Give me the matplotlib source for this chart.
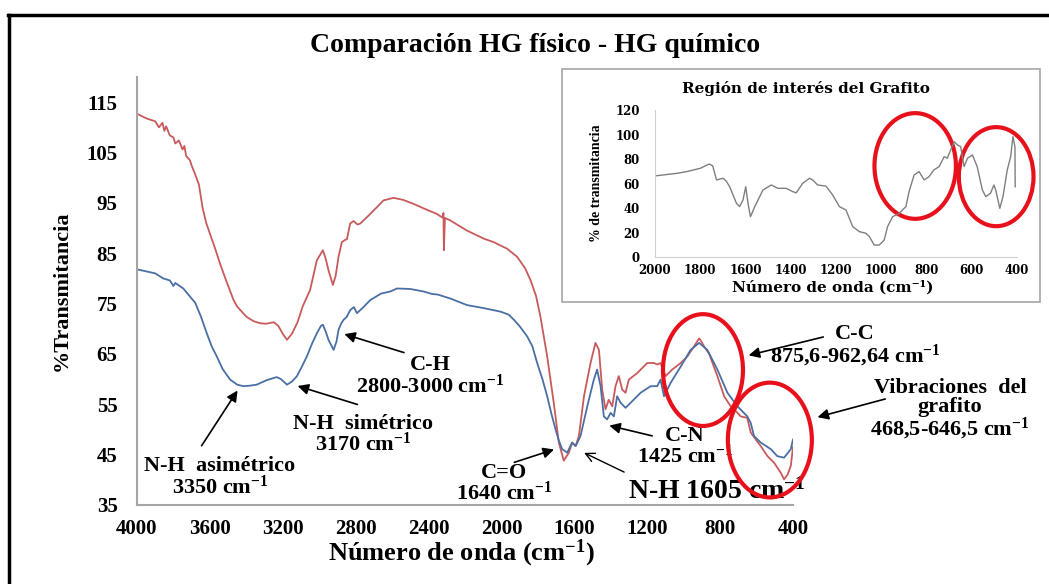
import matplotlib
matplotlib.use('Agg')
import matplotlib.pyplot as plt
from matplotlib.patches import Ellipse, Rectangle
from matplotlib.lines import Line2D

# HG químico (red) - wavenumber / %T
red_x = [4000, 3950, 3900, 3880, 3860, 3850, 3840, 3820, 3800, 3790, 3770, 3750, 3740,
         3730, 3710, 3700, 3680, 3660, 3640, 3620, 3600, 3570, 3545, 3510, 3470, 3450,
         3400, 3360, 3325, 3290, 3250, 3225, 3200, 3177, 3150, 3120, 3090, 3050, 3013,
         2980, 2965, 2949, 2925, 2910, 2894, 2876, 2860, 2848, 2830, 2812, 2790, 2775,
         2720, 2647, 2592, 2540, 2482, 2420, 2354, 2325, 2318, 2316, 2310, 2280, 2226,
         2189, 2097, 2042, 1969, 1914, 1870, 1841, 1810, 1786, 1749, 1713, 1685, 1658,
         1630, 1612, 1593, 1575, 1547, 1511, 1484, 1465, 1447, 1429, 1411, 1392, 1374,
         1356, 1337, 1319, 1301, 1255, 1200, 1163, 1145, 1127, 1099, 1063, 1016, 980,
         943, 915, 900, 888, 860, 815, 778, 742, 705, 687, 651, 632, 600, 577, 540, 504,
         467, 449, 430, 412, 400]
red_y = [112.7, 111.8, 111.2, 110.0, 110.9, 109.3, 110.2, 108.4, 108.0, 106.8, 107.4, 105.6,
         106.3, 104.3, 103.5, 102.4, 100.6, 98.6, 94.0, 91.0, 88.9, 85.8, 83.0, 79.5, 75.7,
         74.4, 72.4, 71.5, 71.1, 71.0, 71.3, 70.6, 69.0, 67.8, 69.0, 71.2, 74.5, 77.7, 83.6,
         85.6, 84.0, 81.6, 78.7, 80.5, 84.3, 87.2, 87.6, 87.8, 90.9, 91.4, 90.7, 90.9,
         92.8, 95.5, 96.0, 95.6, 94.8, 93.8, 92.8, 92.1, 93.0, 85.6, 92.0, 91.5, 90.3,
         89.5, 87.9, 87.2, 85.9, 84.3, 82.0, 79.7, 76.5, 72.4, 64.5, 55.3, 47.4, 43.8,
         45.4, 47.4, 46.7, 48.7, 56.6, 63.2, 67.2, 65.8, 57.9, 54.0, 55.9, 54.6, 58.6,
         60.6, 57.9, 57.3, 59.9, 61.2, 63.2, 63.2, 62.9, 63.2, 60.6, 61.9, 63.2, 64.5,
         66.5, 68.1, 67.3, 66.5, 65.0, 60.6, 56.6, 54.6, 53.3, 52.6, 52.3, 49.4, 47.8,
         46.7, 44.7, 43.4, 41.4, 40.1, 41.0, 42.8, 46.5]

# HG físico (blue)
blue_x = [4000, 3900, 3856, 3820, 3800, 3790, 3746, 3700, 3681, 3650, 3617, 3590, 3562,
          3530, 3489, 3450, 3416, 3380, 3343, 3288, 3233, 3210, 3177, 3150, 3122, 3095,
          3068, 3040, 3013, 2990, 2980, 2965, 2949, 2921, 2905, 2894, 2880, 2866, 2850,
          2830, 2810, 2793, 2760, 2720, 2660, 2610, 2573, 2500, 2427, 2380, 2350, 2280,
          2189, 2097, 2005, 1960, 1932, 1900, 1859, 1830, 1804, 1775, 1749, 1725, 1703,
          1685, 1667, 1639, 1612, 1593, 1566, 1529, 1493, 1475, 1456, 1438, 1420, 1401,
          1383, 1365, 1346, 1319, 1291, 1236, 1181, 1145, 1127, 1108, 1071, 1016, 962,
          915, 870, 815, 760, 705, 651, 632, 614, 577, 522, 486, 449, 412, 400]
blue_y = [81.8, 81.0, 80.0, 79.6, 78.5, 79.1, 78.0, 76.0, 75.2, 72.5, 69.1, 66.5, 64.5,
          62.0, 59.9, 58.9, 58.6, 58.7, 58.9, 59.8, 60.4, 60.0, 58.9, 59.5, 60.6, 62.5,
          64.5, 67.0, 69.1, 70.6, 70.8, 69.5, 67.8, 65.8, 67.5, 69.8, 71.0, 71.8, 72.3,
          73.7, 74.3, 73.1, 74.2, 75.7, 77.0, 77.4, 78.0, 77.9, 77.4, 76.9, 76.8, 76.0,
          74.7, 74.1, 73.4, 72.8, 71.8, 70.5, 68.5, 66.5, 63.2, 60.0, 56.6, 53.0, 50.0,
          47.8, 46.1, 45.4, 47.4, 46.7, 48.7, 54.6, 59.9, 61.9, 58.6, 52.6, 52.0, 53.3,
          52.6, 56.6, 55.3, 54.3, 55.3, 57.3, 58.6, 58.6, 59.9, 56.6, 59.3, 62.5, 65.8,
          67.2, 65.8, 61.9, 57.3, 54.6, 52.6, 51.3, 48.7, 47.4, 46.1, 44.7, 44.4, 46.1, 48.0]

# inset: grafito 2000-400
ins_x = [2000, 1900, 1860, 1800, 1772, 1760, 1745, 1728, 1699, 1685, 1670, 1640, 1626,
         1611, 1599, 1589, 1578, 1559, 1523, 1486, 1457, 1420, 1391, 1376, 1347, 1317,
         1303, 1281, 1244, 1215, 1185, 1156, 1126, 1097, 1068, 1053, 1031, 1009, 987, 972,
         950, 921, 891, 877, 855, 833, 810, 789, 767, 744, 722, 708, 693, 678, 663, 649,
         634, 619, 597, 576, 553, 538, 517, 502, 494, 476, 462, 443, 428, 418, 409, 408]
ins_y = [66.3, 68.5, 69.8, 72.5, 75.0, 76.0, 74.5, 63.0, 64.4, 62.0, 57.5, 44.0, 41.3,
         46.7, 57.5, 44.0, 33.0, 41.3, 54.8, 58.9, 56.2, 56.2, 53.5, 52.5, 60.3, 64.4,
         63.0, 58.9, 58.0, 50.8, 41.3, 38.5, 25.0, 20.9, 19.6, 17.0, 10.0, 10.0, 14.0, 25.0,
         33.0, 35.8, 41.3, 53.5, 67.0, 69.8, 63.0, 65.7, 71.2, 73.9, 82.0, 80.7, 87.5, 94.2,
         91.5, 90.2, 73.9, 80.7, 83.4, 73.9, 54.8, 49.4, 52.2, 58.9, 54.8, 39.9, 49.4,
         71.2, 82.0, 98.3, 90.0, 57.5]

x_ticks = [4000, 3600, 3200, 2800, 2400, 2000, 1600, 1200, 800, 400]
y_ticks = [35, 45, 55, 65, 75, 85, 95, 105, 115]
ins_xticks = [2000, 1800, 1600, 1400, 1200, 1000, 800, 600, 400]
ins_yticks = [0, 20, 40, 60, 80, 100, 120]

plt.rcParams['font.family'] = 'Liberation Serif'
plt.rcParams['font.weight'] = 'bold'
plt.rcParams['axes.labelweight'] = 'bold'
plt.rcParams['mathtext.fontset'] = 'custom'
plt.rcParams['mathtext.rm'] = 'Liberation Serif:bold'
plt.rcParams['mathtext.it'] = 'Liberation Serif:bold'
plt.rcParams['mathtext.bf'] = 'Liberation Serif:bold'

W, H = 1049, 584
fig = plt.figure(figsize=(W / 100, H / 100), dpi=100)

# outer frame lines
fig.add_artist(Line2D([8 / W, 1], [1 - 15 / H] * 2, color='black', lw=2.5))
fig.add_artist(Line2D([9 / W] * 2, [0, 1 - 15 / H], color='black', lw=2.5))

fig.text(535 / W, 1 - 45 / H, 'Comparación HG físico - HG químico', fontsize=20,
         ha='center', va='center')

# main chart
ax = fig.add_axes([137 / W, 1 - 505 / H, 656 / W, 428 / H])
ax.plot(red_x, red_y, color='#C95A5C', lw=1.3)
ax.plot(blue_x, blue_y, color='#4A6FA5', lw=1.3)
ax.set_xlim(4000, 400)
ax.set_ylim(35, 120)
ax.set_xticks(x_ticks)
ax.set_yticks(y_ticks)
ax.tick_params(length=0, labelsize=15)
ax.tick_params(axis='y', pad=14)
ax.tick_params(axis='x', pad=10)
for s in ['top', 'right']:
    ax.spines[s].set_visible(False)
for s in ['left', 'bottom']:
    ax.spines[s].set_color('#A6A6A6')
    ax.spines[s].set_linewidth(1.5)
ax.set_xlabel('Número de onda (cm$^{-1}$)', fontsize=19)
ax.xaxis.set_label_coords(0.495, -0.112)
ax.xaxis.label.set_va('center')
ax.set_ylabel('%Transmitancia', fontsize=16)
ax.yaxis.set_label_coords(-0.114, 0.5)
ax.yaxis.label.set_va('center')

# annotations
fill_arrow = dict(arrowstyle='-|>', color='black', lw=1.2, mutation_scale=16)
open_arrow = dict(arrowstyle='->', color='black', lw=1.0, mutation_scale=16)
ann_fs = 16
ax.text(3545, 40.5, 'N-H  asimétrico\n3350 cm$^{-1}$', fontsize=ann_fs, ha='center',
        va='center', linespacing=0.95)
ax.annotate('', xy=(3440, 58.2), xytext=(3654, 46.3), arrowprops=fill_arrow)
ax.text(2758, 48.9, 'N-H  simétrico\n3170 cm$^{-1}$', fontsize=ann_fs, ha='center',
        va='center', linespacing=0.95)
ax.annotate('', xy=(3133, 58.8), xytext=(2776, 54.8), arrowprops=fill_arrow)
ax.text(2392, 60.5, 'C-H\n2800-3000 cm$^{-1}$', fontsize=ann_fs, ha='center',
        va='center', linespacing=0.95)
ax.annotate('', xy=(2877, 69.1), xytext=(2520, 65.1), arrowprops=fill_arrow)
ax.text(1986, 39.2, 'C=O\n1640 cm$^{-1}$', fontsize=ann_fs, ha='center', va='center',
        linespacing=0.95)
ax.annotate('', xy=(1697, 46.2), xytext=(1944, 43.3), arrowprops=fill_arrow)
ax.text(1306, 37.8, 'N-H 1605 cm$^{-1}$', fontsize=20, ha='left', va='center')
ax.annotate('', xy=(1560, 45.6), xytext=(1313, 41.3), arrowprops=open_arrow)
ax.text(993, 46.5, 'C-N\n1425 cm$^{-1}$', fontsize=ann_fs, ha='center', va='center',
        linespacing=0.95)
ax.annotate('', xy=(1423, 50.9), xytext=(1158, 48.6), arrowprops=fill_arrow)
ax.text(60, 66.5, 'C-C\n875,6-962,64 cm$^{-1}$', fontsize=ann_fs, ha='center',
        va='center', linespacing=0.95)
ax.annotate('', xy=(658, 64.6), xytext=(219, 68.5), arrowprops=fill_arrow,
            annotation_clip=False)
ax.text(-461, 53.8, 'Vibraciones  del\ngrafito\n468,5-646,5 cm$^{-1}$', fontsize=ann_fs,
        ha='center', va='center', linespacing=0.95)
ax.annotate('', xy=(280, 52.3), xytext=(-121, 56.2), arrowprops=fill_arrow,
            annotation_clip=False)

ax.add_patch(Ellipse((894, 61.8), 439, 22.2, fill=False, edgecolor='#E8111B', lw=3,
                     clip_on=False, zorder=5))
ax.add_patch(Ellipse((527, 47.9), 461, 22.8, fill=False, edgecolor='#E8111B', lw=3,
                     clip_on=False, zorder=5))

# inset box
fig.add_artist(Rectangle((562 / W, 1 - 302 / H), 478 / W, 233 / H, facecolor='white',
                         edgecolor='#A6A6A6', lw=1.2, zorder=2))
iax = fig.add_axes([655 / W, 1 - 257.3 / H, 362 / W, 147.3 / H], zorder=3)
iax.patch.set_alpha(0)
iax.plot(ins_x, ins_y, color='#7F7F7F', lw=1.0)
iax.set_xlim(2000, 400)
iax.set_ylim(0, 120)
iax.set_xticks(ins_xticks)
iax.set_yticks(ins_yticks)
iax.tick_params(length=0, labelsize=8.5)
iax.tick_params(axis='y', pad=11)
iax.tick_params(axis='x', pad=5)
for lab in iax.get_xticklabels() + iax.get_yticklabels():
    lab.set_family('DejaVu Serif')
for s in ['top', 'right']:
    iax.spines[s].set_visible(False)
for s in ['left', 'bottom']:
    iax.spines[s].set_color('#D0D0D0')
iax.add_patch(Ellipse((850, 74.4), 360, 86.1, fill=False, edgecolor='#E8111B', lw=3,
                      clip_on=False))
iax.add_patch(Ellipse((492, 65.7), 330, 80.7, fill=False, edgecolor='#E8111B', lw=3,
                      clip_on=False))
fig.text(806 / W, 1 - 89 / H, 'Región de interés del Grafito', fontsize=11,
         family='DejaVu Serif', ha='center', va='center', zorder=4)
fig.text(833 / W, 1 - 287 / H, 'Número de onda (cm⁻¹)', fontsize=11,
         family='DejaVu Serif', ha='center', va='center', zorder=4)
fig.text(596 / W, 1 - 183 / H, '% de transmitancia', fontsize=10, rotation=90,
         ha='center', va='center', zorder=4)

fig.savefig('out.png', dpi=100)
